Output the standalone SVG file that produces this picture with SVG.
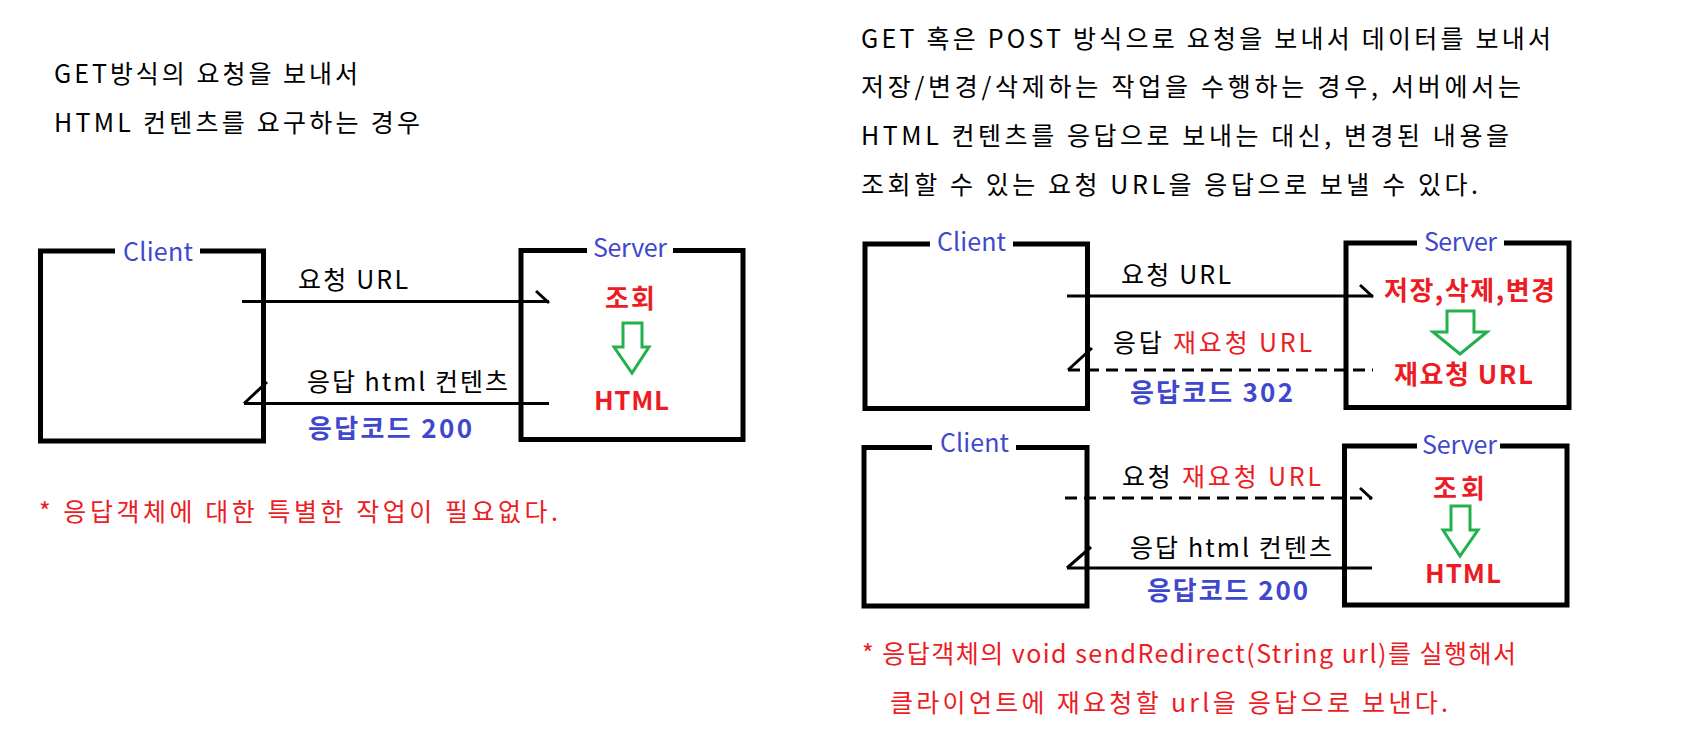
<svg xmlns="http://www.w3.org/2000/svg" width="1691" height="739" viewBox="0 0 1691 739">
<style>
text{font-family:"Noto Sans CJK KR","Noto Sans",sans-serif;font-size:25px;fill:#000}
.lbl{fill:#3F48CC}
.red{fill:#ED1C24}
.bred{fill:#ED1C24;font-weight:bold;font-size:26px}
.bblue{fill:#3F48CC;font-weight:bold;font-size:26px}
.box{fill:none;stroke:#000;stroke-width:5}
.ln{fill:none;stroke:#000;stroke-width:3}
.dash{stroke-dasharray:12 7}
.garrow{fill:#fff;stroke:#22B14C;stroke-width:3;stroke-linejoin:miter}
</style>
<rect width="1691" height="739" fill="#fff"/>

<g id="left-header">
<text x="54" y="83" textLength="304">GET방식의 요청을 보내서</text>
<text x="54" y="132" textLength="366">HTML 컨텐츠를 요구하는 경우</text>
</g>

<g id="client1">
<path class="box" d="M115,251 H40.5 V441 H263.5 V251 H200"/>
<text class="lbl" x="123" y="261" textLength="70">Client</text>
</g>
<g id="server1">
<path class="box" d="M587,250.5 H521 V439.5 H743 V250.5 H673"/>
<text class="lbl" x="593" y="257" textLength="74">Server</text>
<text class="bred" x="605" y="308" textLength="50">조회</text>
<polygon class="garrow" points="623,323 642,323 642,347 649,347 632,373 614,347 623,347"/>
<text class="bred" x="594" y="410" textLength="75">HTML</text>
</g>

<g id="connectors">
<line class="ln" x1="242" y1="301.5" x2="549" y2="301.5"/>
<line class="ln" x1="536" y1="291" x2="549" y2="303"/>
<line class="ln" x1="244" y1="403.5" x2="549" y2="403.5"/>
<line class="ln" x1="244" y1="403.5" x2="267" y2="382"/>

<line class="ln" x1="1067" y1="296" x2="1373" y2="296"/>
<line class="ln" x1="1360" y1="285" x2="1373" y2="297"/>
<line class="ln dash" x1="1068" y1="370" x2="1373" y2="370"/>
<line class="ln" x1="1068" y1="370" x2="1092" y2="348"/>

<line class="ln dash" x1="1065" y1="498" x2="1372" y2="498"/>
<line class="ln" x1="1360" y1="488" x2="1372" y2="499"/>
<line class="ln" x1="1067" y1="568" x2="1372" y2="568"/>
<line class="ln" x1="1067" y1="568" x2="1091" y2="547"/>
</g>

<g id="left-labels">
<text x="298" y="289" textLength="110">요청 URL</text>
<text x="307" y="391" textLength="201">응답 html 컨텐츠</text>
<text class="bblue" x="308" y="438" textLength="164">응답코드 200</text>
<text class="red" x="39" y="521" textLength="519">* 응답객체에 대한 특별한 작업이 필요없다.</text>
</g>

<g id="right-header">
<text x="861" y="48" textLength="690">GET 혹은 POST 방식으로 요청을 보내서 데이터를 보내서</text>
<text x="861" y="96" textLength="660">저장/변경/삭제하는 작업을 수행하는 경우, 서버에서는</text>
<text x="861" y="145" textLength="648">HTML 컨텐츠를 응답으로 보내는 대신, 변경된 내용을</text>
<text x="861" y="194" textLength="617">조회할 수 있는 요청 URL을 응답으로 보낼 수 있다.</text>
</g>

<g id="client2">
<path class="box" d="M930,244 H865 V408.5 H1087.5 V244 H1013"/>
<text class="lbl" x="937" y="251" textLength="69">Client</text>
</g>
<g id="server2">
<path class="box" d="M1417,243 H1346 V407.5 H1569 V243 H1504"/>
<text class="lbl" x="1424" y="251" textLength="73">Server</text>
<text class="bred" x="1384" y="300" textLength="171">저장,삭제,변경</text>
<polygon class="garrow" points="1447,311 1474,311 1474,332 1487,332 1460,354 1433,332 1447,332"/>
<text class="bred" x="1394" y="384" textLength="139">재요청 URL</text>
</g>
<g id="mid-labels-1">
<text x="1121" y="284" textLength="110">요청 URL</text>
<text x="1113" y="352" textLength="199">응답 <tspan class="red">재요청 URL</tspan></text>
<text class="bblue" x="1130" y="402" textLength="163">응답코드 302</text>
</g>

<g id="client3">
<path class="box" d="M932,447.5 H864 V606 H1087 V447.5 H1016"/>
<text class="lbl" x="940" y="452" textLength="69">Client</text>
</g>
<g id="server3">
<path class="box" d="M1417,446 H1344.5 V605 H1567 V446 H1500"/>
<text class="lbl" x="1422" y="454" textLength="75">Server</text>
<text class="bred" x="1433" y="498" textLength="52">조회</text>
<polygon class="garrow" points="1451,506 1470,506 1470,530 1478,530 1460,556 1443,530 1451,530"/>
<text class="bred" x="1425" y="583" textLength="76">HTML</text>
</g>
<g id="mid-labels-2">
<text x="1122" y="486" textLength="199">요청 <tspan class="red">재요청 URL</tspan></text>
<text x="1130" y="557" textLength="202">응답 html 컨텐츠</text>
<text class="bblue" x="1147" y="600" textLength="161">응답코드 200</text>
</g>

<g id="right-note">
<text class="red" x="862" y="663" textLength="654">* 응답객체의 void sendRedirect(String url)를 실행해서</text>
<text class="red" x="890" y="712" textLength="558">클라이언트에 재요청할 url을 응답으로 보낸다.</text>
</g>
</svg>
